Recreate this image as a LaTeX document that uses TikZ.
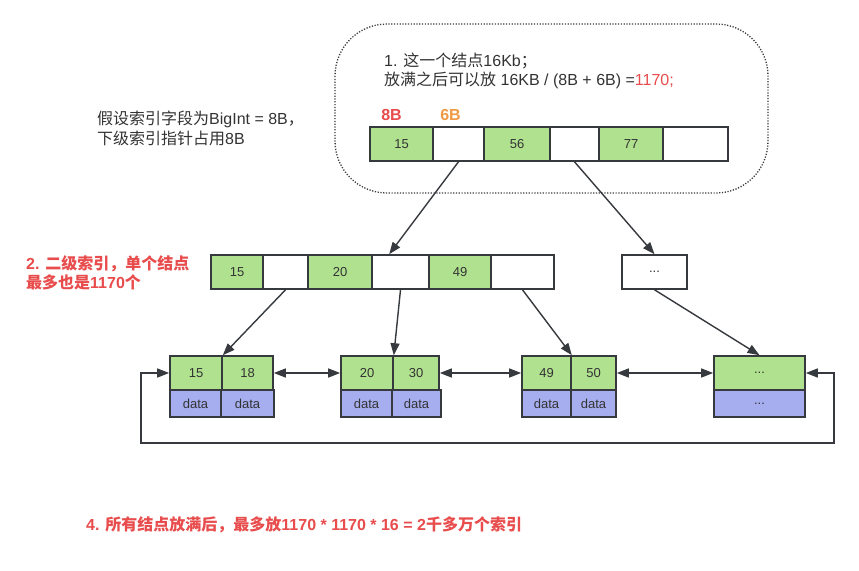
\documentclass[tikz,border=0pt]{standalone}
\usepackage{fontspec}
\setmainfont{Liberation Sans}
\newfontfamily\cjk{Noto Sans CJK SC}
\usetikzlibrary{arrows.meta,calc}
\definecolor{ln}{HTML}{36393D}
\definecolor{txt}{HTML}{333333}
\definecolor{grn}{HTML}{B0E18F}
\definecolor{pur}{HTML}{A6AEF0}
\definecolor{rd}{HTML}{E84C4C}
\definecolor{org}{HTML}{F09A45}
\newcommand\zh[1]{{\cjk #1}}
\tikzset{
  cellbox/.style={draw=ln, line width=1.6pt, minimum height=34pt, inner sep=0pt, text=txt, font=\fontsize{13}{15}\selectfont},
  keycell/.style={cellbox, fill=grn},
  ptrcell/.style={cellbox, fill=white},
  datacell/.style={cellbox, fill=pur, minimum height=27pt},
  arr/.style={draw=ln, line width=1.4pt, -{Triangle[length=12pt,width=9pt]}},
  darr/.style={draw=ln, line width=1.4pt, {Triangle[length=12pt,width=9pt]}-{Triangle[length=12pt,width=9pt]}},
  note/.style={inner sep=0pt, anchor=west, align=left, text=txt, font=\fontsize{16}{19}\selectfont},
  rednote/.style={note, text=rd, font=\fontsize{16}{19.5}\selectfont\bfseries},
}
\begin{document}
\begin{tikzpicture}[x=1pt,y=-1pt]
\useasboundingbox[fill=white] (0,0) rectangle (859,570);
% dotted rounded region
\draw[ln, line width=1.3pt, dash pattern=on 1.2pt off 1.6pt, rounded corners=52pt] (335,24) rectangle (768,193);
% notes
\node[note] (n1) at (384,71) {1. \zh{这一个结点}16Kb\zh{；}\\\zh{放满之后可以放} 16KB / (8B + 6B) =\textcolor{rd}{1170;}};
\node[note, font=\fontsize{16}{20}\selectfont] (n0) at (97,128) {\zh{假设索引字段为}BigInt = 8B\zh{，}\\\zh{下级索引指针占用}8B};
\node[rednote] (n2) at (26,273) {2. \zh{二级索引，单个结点}\\\zh{最多也是}1170\zh{个}};
\node[rednote] (n4) at (86,525) {4. \zh{所有结点放满后，最多放}1170 * 1170 * 16 = 2\zh{千多万个索引}};
\node[inner sep=0pt, text=rd, font=\fontsize{16}{18}\selectfont\bfseries] (b8) at (391.5,115) {8B};
\node[inner sep=0pt, text=org, font=\fontsize{16}{18}\selectfont\bfseries] (b6) at (450.5,115) {6B};
% top node
\node[keycell, minimum width=63pt] (t1) at (401.5,144) {15};
\node[ptrcell, minimum width=51pt] (t2) at (458.5,144) {};
\node[keycell, minimum width=66pt] (t3) at (517,144) {56};
\node[ptrcell, minimum width=49pt] (t4) at (574.5,144) {};
\node[keycell, minimum width=64pt] (t5) at (631,144) {77};
\node[ptrcell, minimum width=65pt] (t6) at (695.5,144) {};
% middle node
\node[keycell, minimum width=52pt] (m1) at (237,272) {15};
\node[ptrcell, minimum width=45pt] (m2) at (285.5,272) {};
\node[keycell, minimum width=64pt] (m3) at (340,272) {20};
\node[ptrcell, minimum width=57pt] (m4) at (400.5,272) {};
\node[keycell, minimum width=62pt] (m5) at (460,272) {49};
\node[ptrcell, minimum width=63pt] (m6) at (522.5,272) {};
\node[ptrcell, minimum width=65pt] (md) at (654.5,272) {...};
% leaves
\node[keycell, minimum width=52pt] (l1a) at (196,373) {15};
\node[keycell, minimum width=51pt] (l1b) at (247.5,373) {18};
\node[datacell, minimum width=51pt] (d1a) at (195.5,403.5) {data};
\node[datacell, minimum width=53pt] (d1b) at (247.5,403.5) {data};
\node[keycell, minimum width=52pt] (l2a) at (367,373) {20};
\node[keycell, minimum width=46pt] (l2b) at (416,373) {30};
\node[datacell, minimum width=51pt] (d2a) at (366.5,403.5) {data};
\node[datacell, minimum width=49pt] (d2b) at (416.5,403.5) {data};
\node[keycell, minimum width=49pt] (l3a) at (546.5,373) {49};
\node[keycell, minimum width=45pt] (l3b) at (593.5,373) {50};
\node[datacell, minimum width=49pt] (d3a) at (546.5,403.5) {data};
\node[datacell, minimum width=45pt] (d3b) at (593.5,403.5) {data};
\node[keycell, minimum width=91pt] (l4) at (759.5,373) {...};
\node[datacell, minimum width=91pt] (d4) at (759.5,403.5) {...};
% tree arrows
\draw[arr] (t2.south) -- ($(m4.north west)+(18,0)$);
\draw[arr] (t4.south) -- (md.north);
\draw[arr] (m2.south) -- (l1a.north east);
\draw[arr] (m4.south) -- (l2a.north east);
\draw[arr] (m6.south) -- (l3a.north east);
\draw[arr] (md.south) -- (l4.north);
% leaf links
\draw[darr] (l1b.east) -- (l2a.west);
\draw[darr] (l2b.east) -- (l3a.west);
\draw[darr] (l3b.east) -- (l4.west);
\coordinate (loopR) at (834,443);
\coordinate (loopL) at (141,443);
\draw[darr] (l4.east) -| (loopR) -- (loopL) |- (l1a.west);
\end{tikzpicture}
\end{document}
